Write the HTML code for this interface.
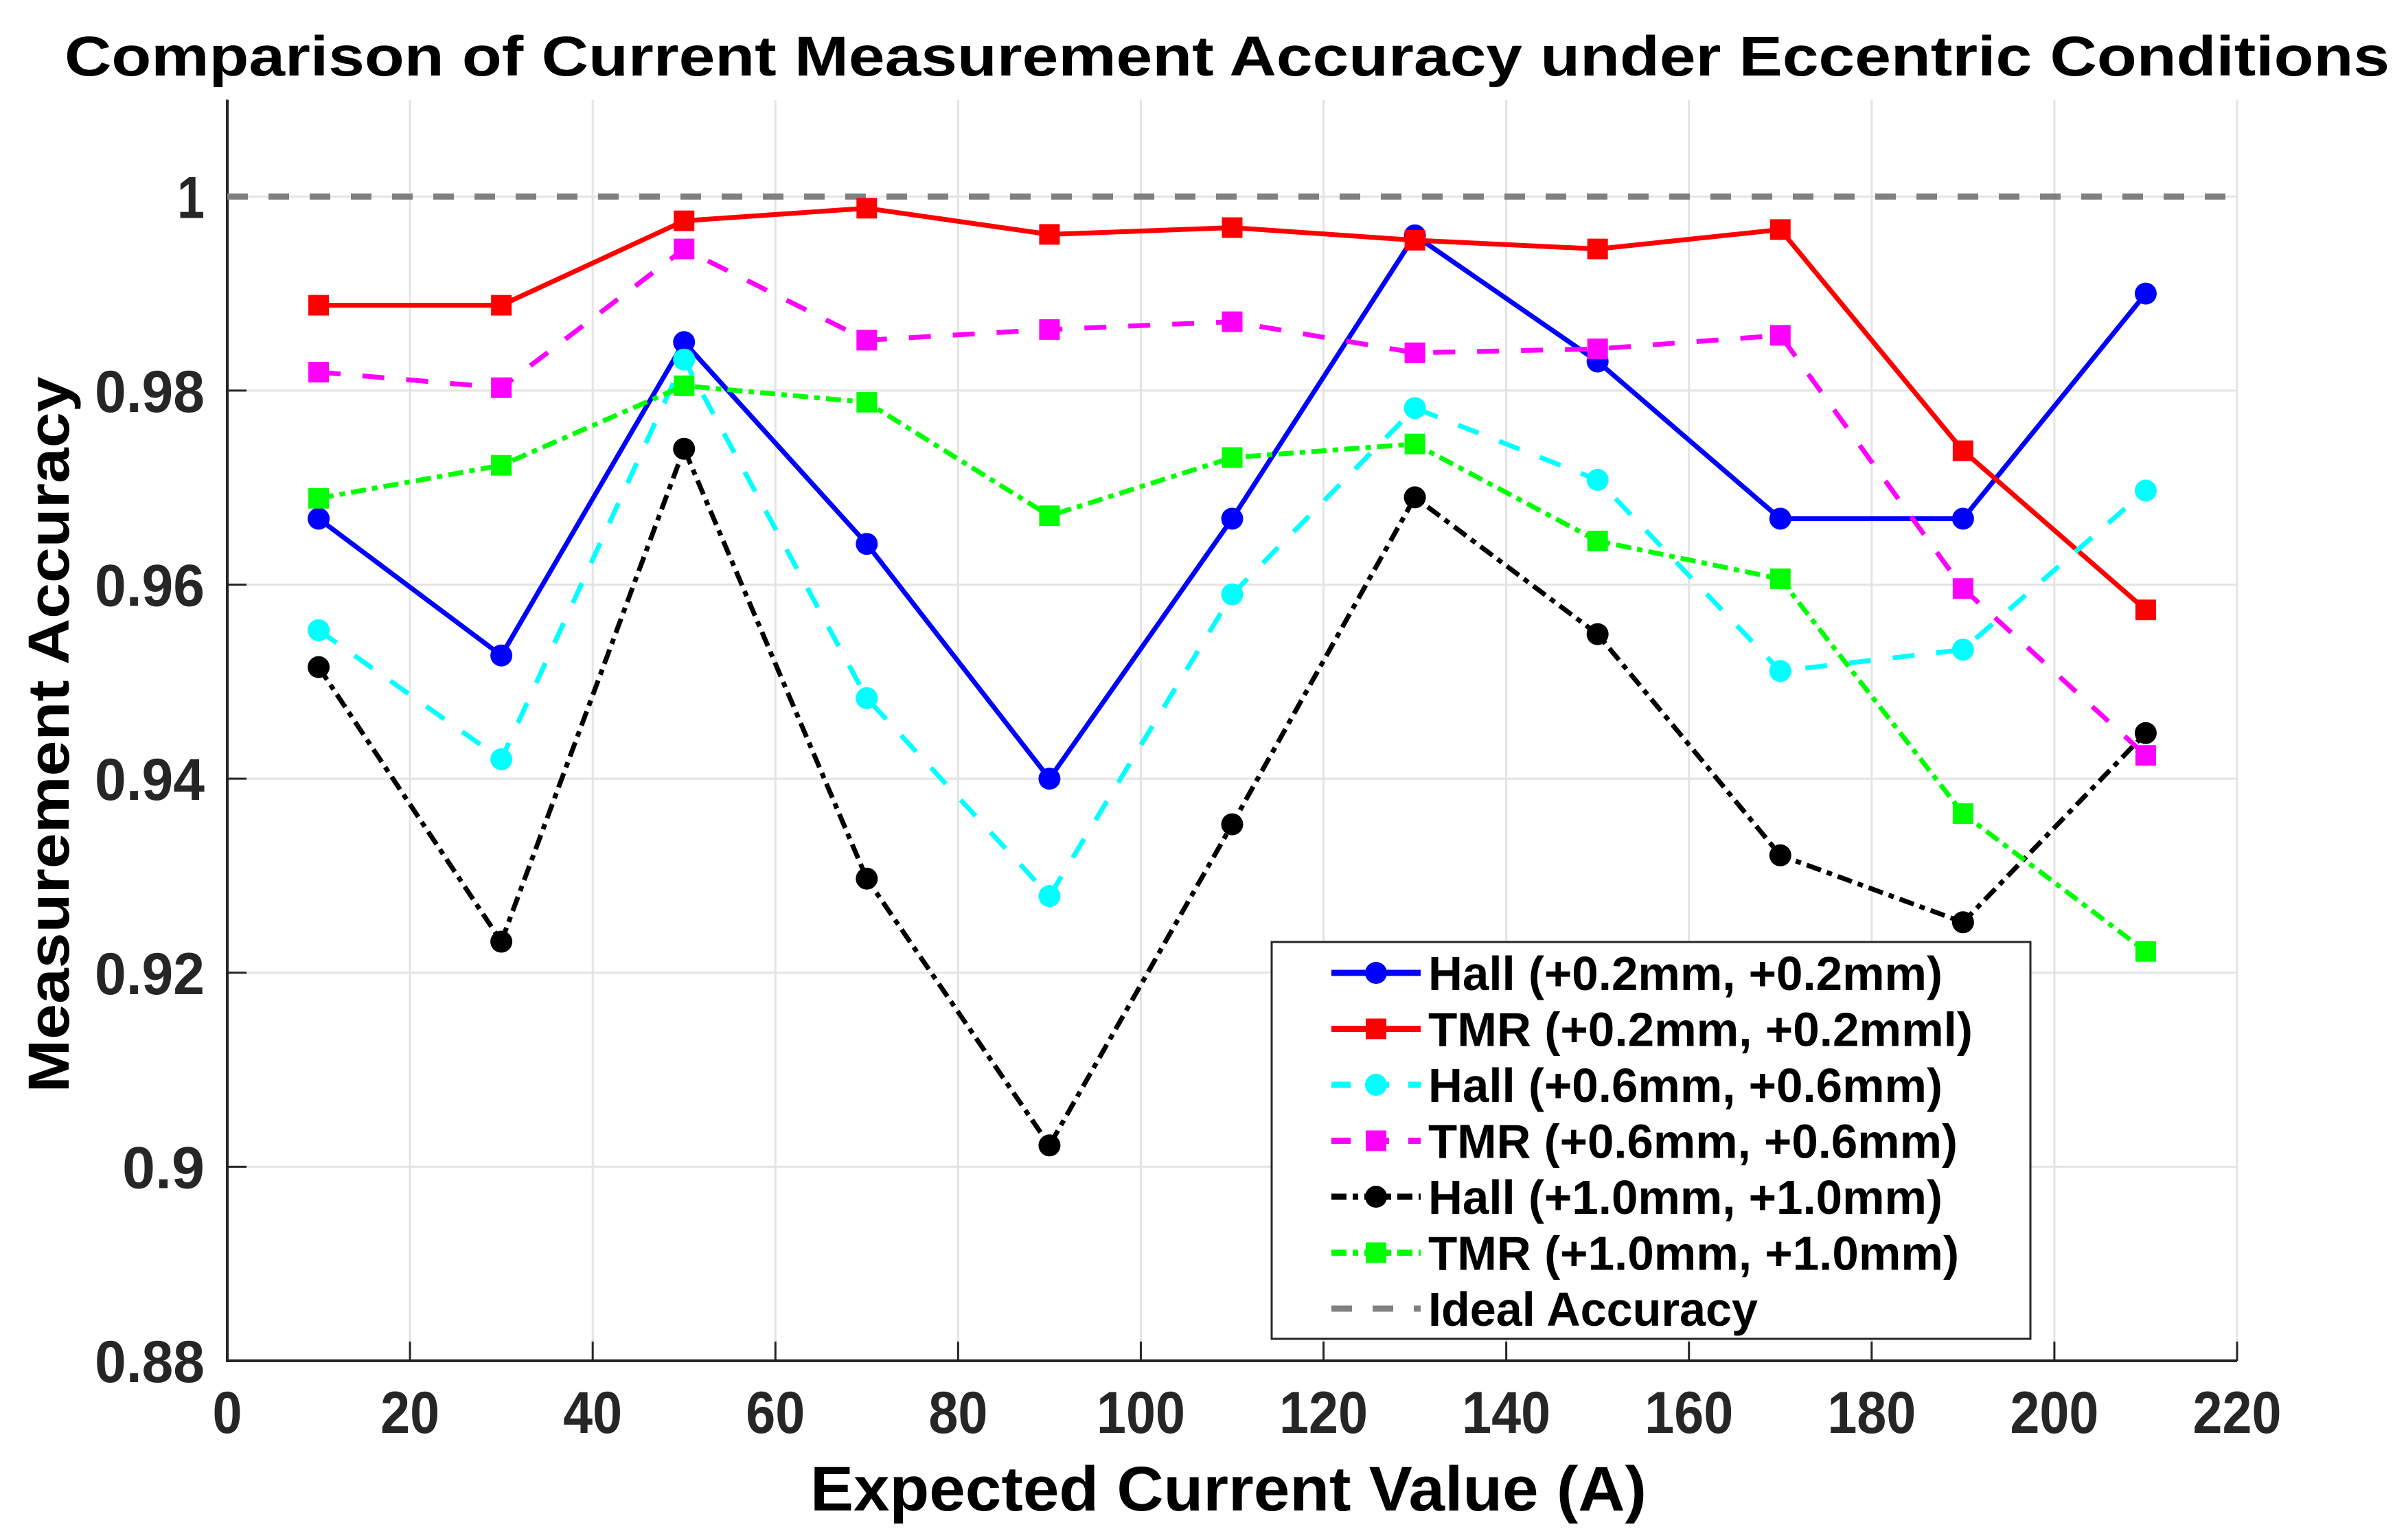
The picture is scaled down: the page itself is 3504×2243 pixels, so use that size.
<!DOCTYPE html>
<html><head><meta charset="utf-8"><style>
html,body{margin:0;padding:0;background:#fff;}
svg{display:block;}
text{font-family:"Liberation Sans",sans-serif;font-weight:bold;}
</style></head><body>
<svg id="chart" width="3504" height="2243" viewBox="0 0 3504 2243" xmlns="http://www.w3.org/2000/svg">
<text x="1787" y="110" font-size="82" text-anchor="middle" textLength="3386" lengthAdjust="spacingAndGlyphs">Comparison of Current Measurement Accuracy under Eccentric Conditions</text>
<g id="grid"></g>
<g id="axes"></g>
<g id="series"></g>
<text x="1789" y="2200" font-size="92" text-anchor="middle" textLength="1218" lengthAdjust="spacingAndGlyphs">Expected Current Value (A)</text>
<text transform="translate(100,1070) rotate(-90)" font-size="84" text-anchor="middle" textLength="1043" lengthAdjust="spacingAndGlyphs">Measurement Accuracy</text>
<g id="legend"></g>
</svg>
<script>
const xValues = [10,30,50,70,90,110,130,150,170,190,210];
const hall02 = [0.9668,0.9527,0.9850,0.9642,0.9400,0.9668,0.9960,0.9830,0.9668,0.9668,0.9900];
const tmr02  = [0.9888,0.9888,0.9975,0.9988,0.9961,0.9968,0.9955,0.9946,0.9966,0.9738,0.9574];
const hall06 = [0.9553,0.9420,0.9832,0.9483,0.9279,0.9590,0.9782,0.9708,0.9511,0.9533,0.9697];
const tmr06  = [0.9819,0.9803,0.9946,0.9852,0.9863,0.9871,0.9839,0.9843,0.9857,0.9596,0.9424];
const hall10 = [0.9515,0.9232,0.9740,0.9297,0.9022,0.9353,0.9690,0.9549,0.9321,0.9252,0.9447];
const tmr10  = [0.9689,0.9723,0.9805,0.9788,0.9671,0.9731,0.9745,0.9645,0.9606,0.9364,0.9222];
const idealValue = 1;
const xTicks = [0,20,40,60,80,100,120,140,160,180,200,220];
const yTicks = [0.88,0.9,0.92,0.94,0.96,0.98,1];
const yTickLabels = ["0.88","0.9","0.92","0.94","0.96","0.98","1"];
const legendLabels = ["Hall (+0.2mm, +0.2mm)","TMR (+0.2mm, +0.2mml)","Hall (+0.6mm, +0.6mm)","TMR (+0.6mm, +0.6mm)","Hall (+1.0mm, +1.0mm)","TMR (+1.0mm, +1.0mm)","Ideal Accuracy"];

const L=331,R=3258,T=145,B=1982,X0=0,X1=220,Y0=0.88,Y1=1.01;
const sx=v=>L+(v-X0)/(X1-X0)*(R-L);
const sy=v=>B-(v-Y0)/(Y1-Y0)*(B-T);
const NS="http://www.w3.org/2000/svg";
function mk(tag,attrs,parent){const e=document.createElementNS(NS,tag);for(const k in attrs)e.setAttribute(k,attrs[k]);parent.appendChild(e);return e;}
const grid=document.getElementById('grid'),axes=document.getElementById('axes'),series=document.getElementById('series'),legend=document.getElementById('legend');

xTicks.forEach((t,i)=>{
  if(t>0){const g=mk('line',{x1:sx(t),x2:sx(t),y1:T,y2:B,stroke:'#e4e4e4','stroke-width':3},grid);
  
  }
  const tk=mk('line',{x1:sx(t),x2:sx(t),y1:B,y2:B-28,stroke:'#262626','stroke-width':3},axes);
  
  
  const lb=mk('text',{x:sx(t),y:2087,'font-size':86,'text-anchor':'middle',fill:'#262626',textLength:String(t).length*43,lengthAdjust:'spacingAndGlyphs'},axes);
  lb.textContent=t;
  
  
});
yTicks.forEach((t,i)=>{
  if(i>0){const g=mk('line',{x1:L,x2:R,y1:sy(t),y2:sy(t),stroke:'#e4e4e4','stroke-width':3},grid);
  
  }
  const tk=mk('line',{x1:L,x2:L+28,y1:sy(t),y2:sy(t),stroke:'#262626','stroke-width':3},axes);
  
  
  const s=yTickLabels[i];
  const lb=mk('text',{x:298,y:sy(t)+31,'font-size':86,'text-anchor':'end',fill:'#262626',textLength:s.length*40,lengthAdjust:'spacingAndGlyphs'},axes);
  lb.textContent=s;
  
  
});
const ax=mk('path',{d:`M${L},${T} L${L},${B} L${R},${B}`,fill:'none',stroke:'#262626','stroke-width':4},axes);



const ideal=mk('line',{x1:L,x2:R,y1:sy(idealValue),y2:sy(idealValue),stroke:'#808080','stroke-width':9,'stroke-dasharray':'30 30'},series);



const defs=[
 {d:hall02,c:'#0000ff',dash:'',m:'o',n:'hall-0.2mm'},
 {d:tmr02,c:'#ff0000',dash:'',m:'s',n:'tmr-0.2mm'},
 {d:hall06,c:'#00ffff',dash:'32 32',m:'o',n:'hall-0.6mm'},
 {d:tmr06,c:'#ff00ff',dash:'32 32',m:'s',n:'tmr-0.6mm'},
 {d:hall10,c:'#000000',dash:'22 9 8 9',m:'o',n:'hall-1.0mm'},
 {d:tmr10,c:'#00ff00',dash:'22 9 8 9',m:'s',n:'tmr-1.0mm'}
];
function marker(type,x,y,c,parent){
  if(type==='o') return mk('circle',{cx:x,cy:y,r:16,fill:c},parent);
  return mk('rect',{x:x-15,y:y-15,width:30,height:30,fill:c},parent);
}
defs.forEach(s=>{
  const g=mk('g',{},series);
  
  
  const pts=s.d.map((v,i)=>sx(xValues[i])+','+sy(v)).join(' ');
  const pl=mk('polyline',{points:pts,fill:'none',stroke:s.c,'stroke-width':7,'stroke-dasharray':s.dash,'stroke-linejoin':'round'},g);
  
  
  s.d.forEach((v,i)=>{
    const m=marker(s.m,sx(xValues[i]),sy(v),s.c,g);
    
    
  });
});

const box=mk('rect',{x:1852,y:1372,width:1105,height:578,fill:'#fff',stroke:'#262626','stroke-width':3},legend);


const widths=[749,793,749,771,749,773,480];
legendLabels.forEach((lab,i)=>{
  const y=1417+i*81.5;
  const g=mk('g',{},legend);
  
  
  if(i<6){
    const s=defs[i];
    mk('line',{x1:1939,x2:2069,y1:y,y2:y,stroke:s.c,'stroke-width':9,'stroke-dasharray':s.dash?(i>=4?'22 9 8 9':'28 28'):''},g);
    marker(s.m,2004,y,s.c,g);
  } else {
    mk('line',{x1:1939,x2:2069,y1:y,y2:y,stroke:'#808080','stroke-width':9,'stroke-dasharray':'30 30'},g);
  }
  const t=mk('text',{x:2080,y:y+25,'font-size':70,textLength:widths[i],lengthAdjust:'spacingAndGlyphs'},g);
  t.textContent=lab;
  
  
});
</script>
</body></html>
